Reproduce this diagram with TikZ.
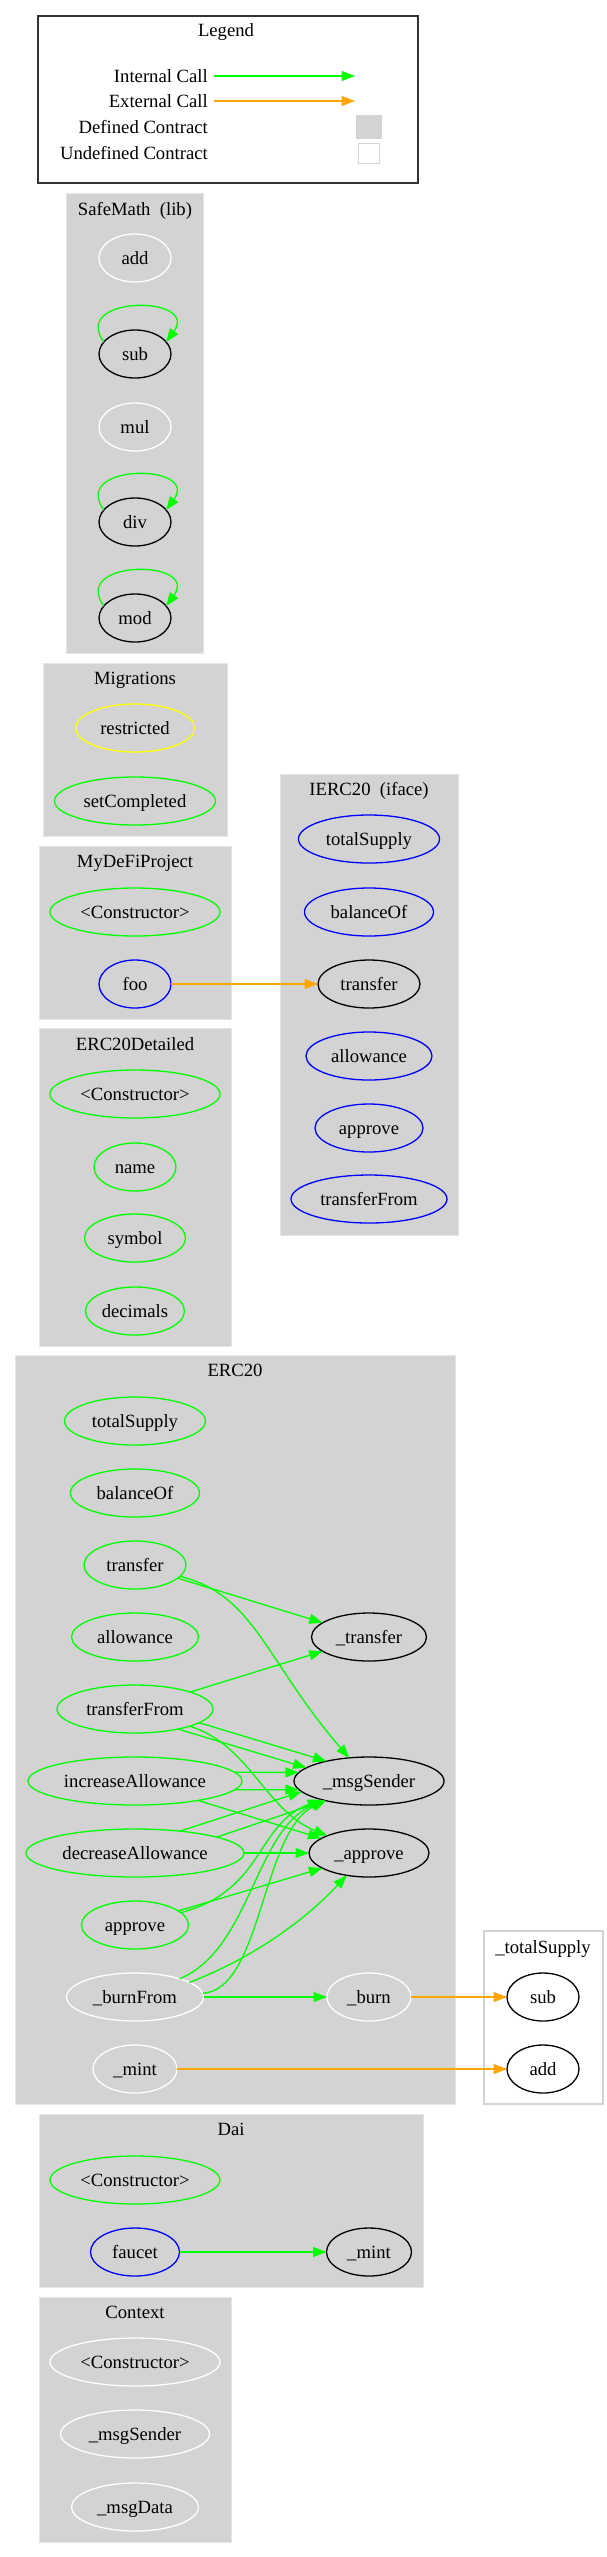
\documentclass[tikz,border=0pt]{standalone}
\usepackage{fontspec}
\setmainfont{Liberation Serif}
\usepackage{xcolor}
\usepackage{tikz}
\usetikzlibrary{shapes.geometric,arrows.meta}

\definecolor{gvgreen}{HTML}{00FF00}
\definecolor{gvblue}{HTML}{0000FF}
\definecolor{gvyellow}{HTML}{FFFF00}
\definecolor{gvorange}{HTML}{FFA500}
\definecolor{gvgray}{HTML}{D3D3D3}

\tikzset{
  fn/.style={ellipse, draw=#1, line width=1.3pt, minimum height=48pt, inner sep=0pt, outer sep=0pt, text height=12.5pt, text depth=0pt},
  ctitle/.style={inner sep=0pt, text height=12.5pt, text depth=0pt},
  cluster/.style={fill=gvgray, draw=gvgray!60, line width=1pt},
  call/.style={draw=gvgreen, line width=1.3pt, -{Triangle[length=13.5pt,width=10pt]}},
  ext/.style={draw=gvorange, line width=1.3pt, -{Triangle[length=13.5pt,width=10pt]}}
}

\begin{document}
\begin{tikzpicture}[x=1pt, y=-1pt, font=\fontsize{18.67pt}{22pt}\selectfont]
\useasboundingbox (0,0) rectangle (607,2557);

% legend
\draw[line width=1.3pt, draw=black!80] (38,16) rectangle (418,183);
\node[ctitle] at (226,30) (lgTitle) {Legend};
\node[ctitle, anchor=east] at (208,76) (lgInt) {Internal Call};
\node[ctitle, anchor=east] at (208,101) (lgExt) {External Call};
\node[ctitle, anchor=east] at (208,127) (lgDef) {Defined Contract};
\node[ctitle, anchor=east] at (208,153) (lgUndef) {Undefined Contract};
\coordinate (lgIntA) at (214,76);
\coordinate (lgIntB) at (355,76);
\coordinate (lgExtA) at (214,101);
\coordinate (lgExtB) at (355,101);
\draw[call] (lgIntA) -- (lgIntB);
\draw[ext] (lgExtA) -- (lgExtB);
\node[fill=gvgray, minimum width=26pt, minimum height=24pt, inner sep=0pt] at (369,127) (lgDefBox) {};
\node[draw=gvgray, line width=1.3pt, minimum width=21pt, minimum height=20pt, inner sep=0pt] at (369,153.5) (lgUndefBox) {};

% clusters
\draw[cluster] (66,193) rectangle (203,653);
\draw[cluster] (43,663) rectangle (227,836);
\draw[cluster] (39,846) rectangle (231,1019);
\draw[cluster] (280,774) rectangle (458,1235);
\draw[cluster] (39,1028) rectangle (231,1346);
\draw[cluster] (15,1355) rectangle (455,2104);
\draw[fill=white, draw=gvgray, line width=1.3pt] (484,1931) rectangle (603,2104);
\draw[cluster] (39,2114) rectangle (423,2287);
\draw[cluster] (39,2297) rectangle (231,2542);

% SafeMath
\node[ctitle] at (135,209) (smTitle) {SafeMath\ \ (lib)};
\node[fn=white, minimum width=72pt] at (135,258) (smAdd) {add};
\node[fn=black, minimum width=72pt] at (135,354) (smSub) {sub};
\node[fn=white, minimum width=72pt] at (135,427) (smMul) {mul};
\node[fn=black, minimum width=72pt] at (135,522) (smDiv) {div};
\node[fn=black, minimum width=72pt] at (135,618) (smMod) {mod};

% Migrations
\node[ctitle] at (135,678) (migTitle) {Migrations};
\node[fn=gvyellow, minimum width=119pt] at (135,728) (migRestricted) {restricted};
\node[fn=gvgreen, minimum width=161pt] at (135,801) (migSetCompleted) {setCompleted};

% MyDeFiProject
\node[ctitle] at (135,861) (mdpTitle) {MyDeFiProject};
\node[fn=gvgreen, minimum width=170pt] at (135,912) (mdpCtor) {<Constructor>};
\node[fn=gvblue, minimum width=72pt] at (135,984) (mdpFoo) {foo};

% IERC20
\node[ctitle] at (369,789) (ieTitle) {IERC20\ \ (iface)};
\node[fn=gvblue, minimum width=141pt] at (369,839) (ieTotalSupply) {totalSupply};
\node[fn=gvblue, minimum width=129pt] at (369,912) (ieBalanceOf) {balanceOf};
\node[fn=black, minimum width=102pt] at (369,984) (ieTransfer) {transfer};
\node[fn=gvblue, minimum width=126pt] at (369,1056) (ieAllowance) {allowance};
\node[fn=gvblue, minimum width=108pt] at (369,1128) (ieApprove) {approve};
\node[fn=gvblue, minimum width=156pt] at (369,1199) (ieTransferFrom) {transferFrom};

% ERC20Detailed
\node[ctitle] at (135,1044) (edTitle) {ERC20Detailed};
\node[fn=gvgreen, minimum width=170pt] at (135,1094) (edCtor) {<Constructor>};
\node[fn=gvgreen, minimum width=82pt] at (135,1167) (edName) {name};
\node[fn=gvgreen, minimum width=101pt] at (135,1238) (edSymbol) {symbol};
\node[fn=gvgreen, minimum width=99pt] at (135,1311) (edDecimals) {decimals};

% ERC20
\node[ctitle] at (235,1370) (ercTitle) {ERC20};
\node[fn=gvgreen, minimum width=141pt] at (135,1421) (ercTotalSupply) {totalSupply};
\node[fn=gvgreen, minimum width=129pt] at (135,1493) (ercBalanceOf) {balanceOf};
\node[fn=gvgreen, minimum width=102pt] at (135,1565) (ercTransfer) {transfer};
\node[fn=gvgreen, minimum width=127pt] at (135,1637) (ercAllowance) {allowance};
\node[fn=gvgreen, minimum width=156pt] at (135,1709) (ercTransferFrom) {transferFrom};
\node[fn=gvgreen, minimum width=214pt] at (135,1781) (ercIncAllow) {increaseAllowance};
\node[fn=gvgreen, minimum width=218pt] at (135,1853) (ercDecAllow) {decreaseAllowance};
\node[fn=gvgreen, minimum width=107pt] at (135,1925) (ercApprove) {approve};
\node[fn=white, minimum width=137pt] at (135,1997) (ercBurnFrom) {\_burnFrom};
\node[fn=white, minimum width=84pt] at (135,2069) (ercMint) {\_mint};
\node[fn=black, minimum width=115pt] at (369,1637) (ercUTransfer) {\_transfer};
\node[fn=black, minimum width=150pt] at (369,1781) (ercUMsgSender) {\_msgSender};
\node[fn=black, minimum width=120pt] at (369,1853) (ercUApprove) {\_approve};
\node[fn=white, minimum width=84pt] at (369,1997) (ercUBurn) {\_burn};

% _totalSupply
\node[ctitle] at (543,1947) (tsTitle) {\_totalSupply};
\node[fn=black, minimum width=72pt] at (543,1997) (tsSub) {sub};
\node[fn=black, minimum width=72pt] at (543,2069) (tsAdd) {add};

% Dai
\node[ctitle] at (231,2129) (daiTitle) {Dai};
\node[fn=gvgreen, minimum width=170pt] at (135,2180) (daiCtor) {<Constructor>};
\node[fn=gvblue, minimum width=89pt] at (135,2252) (daiFaucet) {faucet};
\node[fn=black, minimum width=85pt] at (369,2252) (daiMint) {\_mint};

% Context
\node[ctitle] at (135,2312) (ctxTitle) {Context};
\node[fn=white, minimum width=170pt] at (135,2362) (ctxCtor) {<Constructor>};
\node[fn=white, minimum width=149pt] at (135,2434) (ctxMsgSender) {\_msgSender};
\node[fn=white, minimum width=127pt] at (135,2507) (ctxMsgData) {\_msgData};

% self calls
\draw[call] (smSub.159) .. controls +(-34,-47) and +(34,-47) .. (smSub.21);
\draw[call] (smDiv.159) .. controls +(-34,-47) and +(34,-47) .. (smDiv.21);
\draw[call] (smMod.159) .. controls +(-34,-47) and +(34,-47) .. (smMod.21);

% ERC20 internal calls
\draw[call] (ercTransfer) -- (ercUTransfer);
\draw[call] (ercTransfer) .. controls (255,1595) and (265,1660) .. (ercUMsgSender);
\draw[call] (ercTransferFrom) -- (ercUTransfer);
\draw[call] (ercTransferFrom.-12) -- (ercUMsgSender.155);
\draw[call] (ercTransferFrom.-25) -- (ercUMsgSender.168);
\draw[call] (ercTransferFrom) .. controls (250,1745) and (265,1810) .. (ercUApprove);
\draw[call] (ercIncAllow.5) -- (ercUMsgSender.173);
\draw[call] (ercIncAllow.-5) -- (ercUMsgSender.-173);
\draw[call] (ercIncAllow) -- (ercUApprove);
\draw[call] (ercDecAllow.26) -- (ercUMsgSender.189);
\draw[call] (ercDecAllow.11) -- (ercUMsgSender.204);
\draw[call] (ercDecAllow) -- (ercUApprove);
\draw[call] (ercApprove.18) -- (ercUApprove.198);
\draw[call] (ercApprove) .. controls (265,1890) and (255,1825) .. (ercUMsgSender);
\draw[call] (ercBurnFrom) .. controls (250,1950) and (255,1830) .. (ercUMsgSender);
\draw[call] (ercBurnFrom) .. controls (262,1990) and (262,1830) .. (ercUMsgSender);
\draw[call] (ercBurnFrom.15) .. controls (260,1955) and (310,1915) .. (ercUApprove.225);
\draw[call] (ercBurnFrom) -- (ercUBurn);
\draw[call] (daiFaucet) -- (daiMint);

% external calls
\draw[ext] (mdpFoo) -- (ieTransfer);
\draw[ext] (ercUBurn) -- (tsSub);
\draw[ext] (ercMint) -- (tsAdd);
\end{tikzpicture}
\end{document}
